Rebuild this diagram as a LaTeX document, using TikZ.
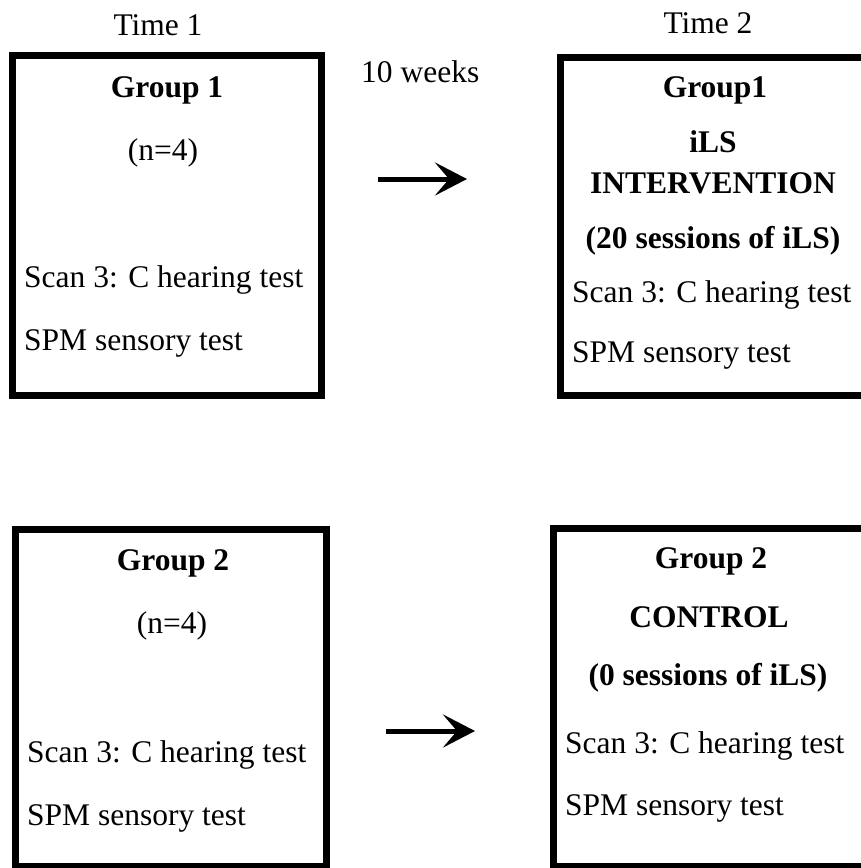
\documentclass[tikz,border=0pt]{standalone}
\usepackage{fontspec}
\setmainfont{Liberation Serif}
\usetikzlibrary{arrows.meta}

\tikzset{
  box/.style={draw, line width=7pt, inner sep=0pt, outer sep=0pt, anchor=north west},
  txt/.style={inner sep=0pt, font=\fontsize{31.5}{38}\selectfont},
  bold/.style={inner sep=0pt, font=\fontsize{31.5}{38}\selectfont\bfseries},
  flow/.style={line width=5pt, -{Stealth[length=32pt, width=33pt, inset=14pt]}}
}

\begin{document}
\begin{tikzpicture}[x=1pt, y=-1pt]
  \useasboundingbox (0,0) rectangle (860,868);

  % boxes
  \node[box, minimum width=309pt, minimum height=340pt] (boxA) at (12.5,55.5) {};
  \node[box, minimum width=320pt, minimum height=338.5pt] (boxB) at (560.5,57) {};
  \node[box, minimum width=311pt, minimum height=337pt] (boxC) at (15.5,529) {};
  \node[box, minimum width=330pt, minimum height=338pt] (boxD) at (553.5,528) {};

  % headings
  \node[txt, anchor=base] (time1) at (158,35) {Time 1};
  \node[txt, anchor=base] (time2) at (708,33) {Time 2};
  \node[txt, anchor=base west] (weeks) at (361,82) {10 weeks};

  % group 1, time 1
  \node[bold, anchor=base] (grpA) at (167,97) {Group 1};
  \node[txt, anchor=base] (nA) at (163,160) {(n=4)};
  \node[txt, anchor=base west] (scanA) at (24,287) {Scan 3: C hearing test};
  \node[txt, anchor=base west] (spmA) at (24,350) {SPM sensory test};

  % group 1, time 2
  \node[bold, anchor=base] (grpB) at (715,97) {Group1};
  \node[bold, anchor=base] (ilsB) at (713,152) {iLS};
  \node[bold, anchor=base] (intB) at (713,193) {INTERVENTION};
  \node[bold, anchor=base] (sesB) at (713,248) {(20 sessions of iLS)};
  \node[txt, anchor=base west] (scanB) at (572,302) {Scan 3: C hearing test};
  \node[txt, anchor=base west] (spmB) at (572,362) {SPM sensory test};

  % group 2, time 1
  \node[bold, anchor=base] (grpC) at (173,570) {Group 2};
  \node[txt, anchor=base] (nC) at (172,633) {(n=4)};
  \node[txt, anchor=base west] (scanC) at (27,762) {Scan 3: C hearing test};
  \node[txt, anchor=base west] (spmC) at (27,825) {SPM sensory test};

  % group 2, time 2
  \node[bold, anchor=base] (grpD) at (711,568) {Group 2};
  \node[bold, anchor=base] (ctlD) at (709,627) {CONTROL};
  \node[bold, anchor=base] (sesD) at (708,685) {(0 sessions of iLS)};
  \node[txt, anchor=base west] (scanD) at (565,753) {Scan 3: C hearing test};
  \node[txt, anchor=base west] (spmD) at (565,815) {SPM sensory test};

  % arrows
  \coordinate (fromA) at (378,179);
  \coordinate (toB) at (467,179);
  \coordinate (fromC) at (386,731);
  \coordinate (toD) at (475,731);
  \draw[flow] (fromA) -- (toB);
  \draw[flow] (fromC) -- (toD);
\end{tikzpicture}
\end{document}
